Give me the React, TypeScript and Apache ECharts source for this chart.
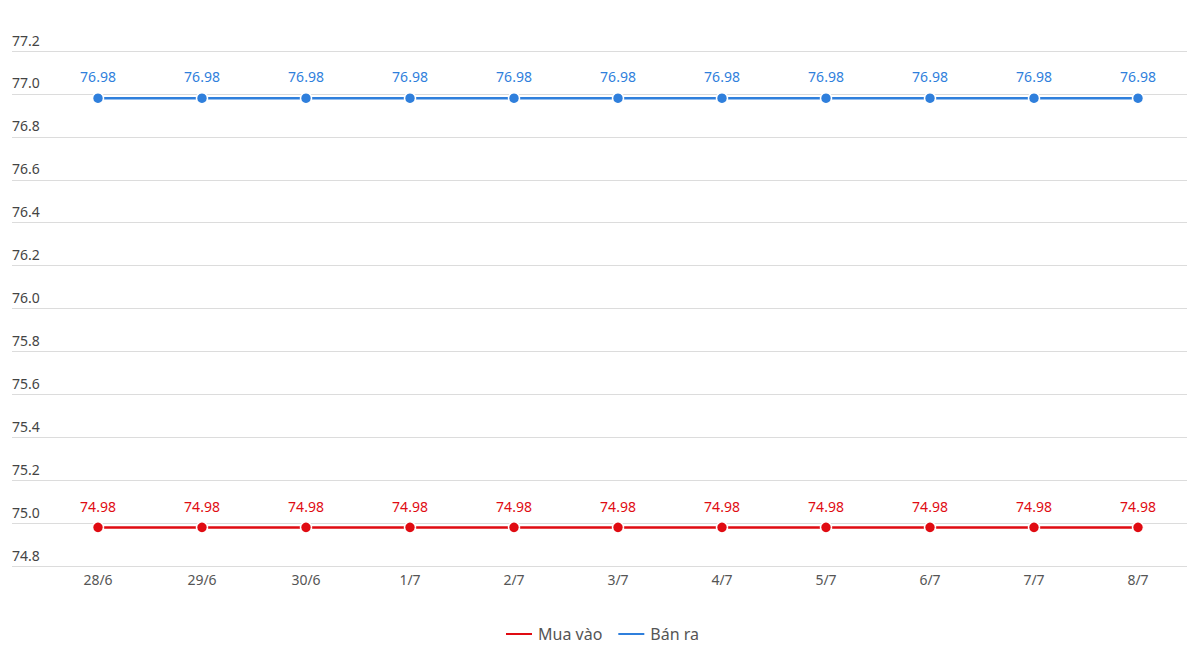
import React, { useEffect, useRef } from "react";
import * as echarts from "echarts";

const categories = ["28/6", "29/6", "30/6", "1/7", "2/7", "3/7", "4/7", "5/7", "6/7", "7/7", "8/7"];
const muaVao = [74.98, 74.98, 74.98, 74.98, 74.98, 74.98, 74.98, 74.98, 74.98, 74.98, 74.98];
const banRa = [76.98, 76.98, 76.98, 76.98, 76.98, 76.98, 76.98, 76.98, 76.98, 76.98, 76.98];
const yMin = 74.8;
const yMax = 77.2;
const yStep = 0.2;

const RED = "#e00b12";
const BLUE = "#2f7fdc";
const FONT = "'Noto Sans', 'Open Sans', sans-serif";

export default function App() {
  const ref = useRef<HTMLDivElement>(null);
  useEffect(() => {
    if (!ref.current) return;
    const chart = echarts.init(ref.current, undefined, { renderer: "svg" });
    const mkSeries = (name: string, data: number[], color: string) => ({
      name,
      type: "line",
      xAxisIndex: 1,
      yAxisIndex: 1,
      data,
      symbol: "circle",
      symbolSize: 11,
      lineStyle: { color, width: 2.5 },
      itemStyle: { color, borderColor: "#fff", borderWidth: 1.5 },
      label: {
        show: true,
        position: "top",
        distance: 8,
        color,
        fontSize: 14,
        fontFamily: FONT,
        formatter: (p: any) => p.value.toFixed(2),
      },
    });
    chart.setOption({
      animation: false,
      grid: [
        { left: 4, right: 5, top: 43, bottom: 104 },
        { left: 38, right: 5, top: 43, bottom: 104 },
      ],
      xAxis: [
        { type: "category", gridIndex: 0, data: categories, show: false },
        {
          type: "category",
          gridIndex: 1,
          data: categories,
          boundaryGap: true,
          axisLine: { show: false },
          axisTick: { show: false },
          axisLabel: { color: "#555", fontSize: 14, fontFamily: FONT, margin: 6 },
        },
      ],
      yAxis: [
        {
          type: "value",
          gridIndex: 0,
          min: yMin,
          max: yMax,
          interval: yStep,
          axisLine: { show: false },
          axisTick: { show: false },
          splitLine: { lineStyle: { color: "#dcdcdc", width: 1 } },
          axisLabel: {
            inside: true,
            margin: 0,
            verticalAlign: "bottom",
            padding: [0, 0, 4, 0],
            color: "#444",
            fontSize: 14,
            fontFamily: FONT,
            formatter: (v: number) => v.toFixed(1),
          },
        },
        {
          type: "value",
          gridIndex: 1,
          min: yMin,
          max: yMax,
          interval: yStep,
          show: false,
          splitLine: { show: false },
        },
      ],
      legend: {
        bottom: 23,
        left: "center",
        icon: "rect",
        itemWidth: 28,
        itemHeight: 4,
        itemGap: 14,
        textStyle: { color: "#555", fontSize: 16, fontFamily: FONT },
        data: ["Mua vào", "Bán ra"],
      },
      series: [mkSeries("Mua vào", muaVao, RED), mkSeries("Bán ra", banRa, BLUE)],
    });
    return () => chart.dispose();
  }, []);
  return <div ref={ref} style={{ width: 1187, height: 662 }} />;
}
